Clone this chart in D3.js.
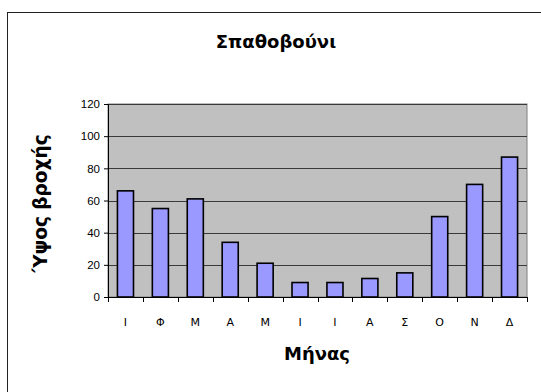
<!DOCTYPE html>
<html>
<head>
<meta charset="utf-8">
<script src="https://cdn.jsdelivr.net/npm/d3@7"></script>
<style>
  html, body { margin: 0; padding: 0; background: #fff; }
  svg { display: block; }
</style>
</head>
<body>
<svg id="chart" width="541" height="392"></svg>
<script>
// Monthly rainfall height, Spathovouni
const months = ["Ι", "Φ", "Μ", "Α", "Μ", "Ι", "Ι", "Α", "Σ", "Ο", "Ν", "Δ"];
const rainfall = [66, 55, 61, 34, 21, 9, 9, 11.5, 15, 50, 70, 87];
const yTicks = [0, 20, 40, 60, 80, 100, 120];
const title = "Σπαθοβούνι";
const xTitle = "Μήνας";
const yTitle = "Ύψος βροχής";

const svg = d3.select("#chart");
const plot = { left: 108, right: 527, top: 104, bottom: 297 };
const titleFont = "DejaVu Sans, Verdana, sans-serif";

// Outer chart frame
svg.append("rect")
  .attr("x", 7.5).attr("y", 12.5)
  .attr("width", 545).attr("height", 395)
  .attr("fill", "#fff")
  .attr("stroke", "#222").attr("stroke-width", 1);

const idx = months.map((d, i) => i);
const x = d3.scaleBand().domain(idx).range([plot.left, plot.right]).paddingInner(0.54).paddingOuter(0.27);
const xb = d3.scaleBand().domain(idx).range([plot.left, plot.right]);
const y = d3.scaleLinear().domain([0, 120]).range([plot.bottom, plot.top]);

// Plot area background
svg.append("rect")
  .attr("x", plot.left).attr("y", plot.top)
  .attr("width", plot.right - plot.left).attr("height", plot.bottom - plot.top)
  .attr("fill", "#c0c0c0")
  .attr("stroke", "#808080").attr("stroke-width", 1);

// Gridlines
svg.append("g")
  .selectAll("line")
  .data(yTicks.filter(t => t > 0))
  .join("line")
  .attr("x1", plot.left).attr("x2", plot.right)
  .attr("y1", d => Math.round(y(d)) + 0.5).attr("y2", d => Math.round(y(d)) + 0.5)
  .attr("stroke", "#3a3a3a").attr("stroke-width", 1);

// Bars
svg.append("g")
  .selectAll("rect")
  .data(rainfall)
  .join("rect")
  .attr("x", (d, i) => x(i))
  .attr("y", d => y(d))
  .attr("width", x.bandwidth())
  .attr("height", d => y(0) - y(d))
  .attr("fill", "#9999ff")
  .attr("stroke", "#000").attr("stroke-width", 1.6);

// Y axis
const yAxis = svg.append("g")
  .attr("transform", `translate(${plot.left},0)`)
  .call(d3.axisLeft(y).tickValues(yTicks).tickSize(4).tickPadding(4));
yAxis.selectAll("path, line").attr("stroke", "#000");
yAxis.selectAll("text")
  .attr("font-family", "Liberation Sans, Arial, sans-serif")
  .attr("font-size", 11.5).attr("fill", "#000");

// X axis: ticks at category boundaries
const xAxisG = svg.append("g").attr("transform", `translate(0,${plot.bottom})`);
xAxisG.append("line")
  .attr("x1", plot.left).attr("x2", plot.right)
  .attr("y1", 0.5).attr("y2", 0.5)
  .attr("stroke", "#000");
xAxisG.selectAll("line.tick")
  .data(idx.concat([months.length]))
  .join("line")
  .attr("class", "tick")
  .attr("x1", d => Math.round(d < months.length ? xb(d) : plot.right) + 0.5)
  .attr("x2", d => Math.round(d < months.length ? xb(d) : plot.right) + 0.5)
  .attr("y1", 0).attr("y2", 5)
  .attr("stroke", "#000");
xAxisG.selectAll("text")
  .data(months)
  .join("text")
  .attr("x", (d, i) => xb(i) + xb.bandwidth() / 2)
  .attr("y", 29)
  .attr("text-anchor", "middle")
  .attr("font-family", titleFont)
  .attr("font-size", 11)
  .attr("fill", "#000")
  .text(d => d);

// Titles
svg.append("text")
  .attr("x", 276).attr("y", 48)
  .attr("text-anchor", "middle")
  .attr("font-family", titleFont)
  .attr("font-weight", "bold").attr("font-size", 18)
  .text(title);

svg.append("text")
  .attr("x", 317).attr("y", 360)
  .attr("text-anchor", "middle")
  .attr("font-family", titleFont)
  .attr("font-weight", "bold").attr("font-size", 18)
  .text(xTitle);

svg.append("text")
  .attr("transform", `translate(47,${(plot.top + plot.bottom) / 2 + 3}) rotate(-90)`)
  .attr("text-anchor", "middle")
  .attr("font-family", titleFont)
  .attr("font-weight", "bold").attr("font-size", 18.5)
  .text(yTitle);
</script>
</body>
</html>
